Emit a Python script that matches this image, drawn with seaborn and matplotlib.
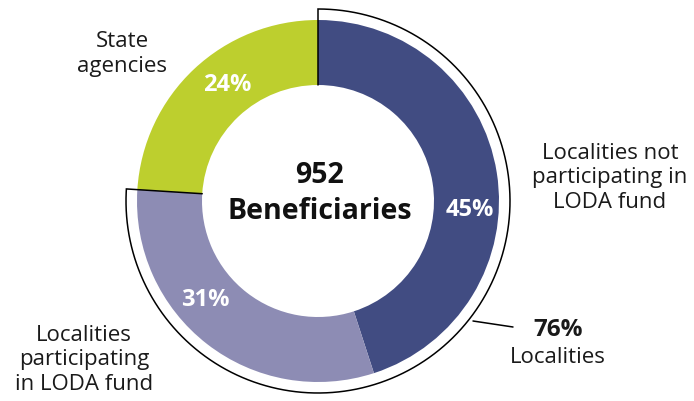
import matplotlib.pyplot as plt
import numpy as np
import seaborn as sns

# valores
segmentos = ["Localities not participating in LODA fund",
             "Localities participating in LODA fund",
             "State agencies"]
percentuais = [45, 31, 24]
cores = ["#414c82", "#8d8cb4", "#bdcf2e"]
total_beneficiarios = 952
localidades = ["Localities not participating in LODA fund",
               "Localities participating in LODA fund"]

W, H = 694, 402


def px(x, y):
    # coordenadas de tela (y para baixo) -> dados (y para cima)
    return x, H - y


sns.set_theme(style="white")
plt.rcParams["font.family"] = ["Open Sans", "DejaVu Sans"]

fig = plt.figure(figsize=(W / 100, H / 100), dpi=100)
ax = fig.add_axes([0, 0, 1, 1])

cx, cy = px(318, 202)
r_ext, r_int = 181, 116

ax.pie(
    percentuais,
    colors=cores,
    startangle=90,
    counterclock=False,
    radius=r_ext,
    center=(cx, cy),
    wedgeprops=dict(width=r_ext - r_int, edgecolor="none", linewidth=0),
)

# colchete em volta das localidades (76%)
frac_loc = sum(p for s, p in zip(segmentos, percentuais) if s in localidades) / sum(percentuais)
r_colchete = 192
theta = np.radians(np.linspace(90, 90 - 360 * frac_loc, 300))
xs = np.concatenate([[cx + r_int * np.cos(theta[0])], cx + r_colchete * np.cos(theta),
                     [cx + r_int * np.cos(theta[-1])]])
ys = np.concatenate([[cy + r_int * np.sin(theta[0])], cy + r_colchete * np.sin(theta),
                     [cy + r_int * np.sin(theta[-1])]])
ax.plot(xs, ys, color="black", lw=1.1, solid_joinstyle="miter")

# linha de chamada do 76%
ax.plot(*zip(px(473, 322), px(513, 328)), color="black", lw=1.1)

# rótulos de percentual
pos_pct = [px(470, 210), px(205, 300), px(227, 85)]
for p, (x, y) in zip(percentuais, pos_pct):
    ax.text(x, y, f"{p}%", color="white", fontsize=17, fontweight="bold",
            ha="center", va="center")

# texto central
ax.text(*px(320, 176), f"{total_beneficiarios}", fontsize=20.5, fontweight="bold",
        ha="center", va="center", color="#111111")
ax.text(*px(320, 212), "Beneficiaries", fontsize=20.5, fontweight="bold",
        ha="center", va="center", color="#111111")

# rótulos externos
estilo = dict(fontsize=16, ha="center", va="center", color="#1a1a1a", linespacing=1.2)
ax.text(*px(122, 54), "State\nagencies", **estilo)
ax.text(*px(610, 178), "Localities not\nparticipating in\nLODA fund", **estilo)
ax.text(*px(84, 360), "Localities\nparticipating\nin LODA fund", **estilo)

ax.text(*px(558, 330), f"{round(frac_loc * 100)}%", fontsize=17.5, fontweight="bold",
        ha="center", va="center", color="#1a1a1a")
ax.text(*px(558, 358), "Localities", **estilo)

ax.set_xlim(0, W)
ax.set_ylim(0, H)
ax.set_aspect("equal")
ax.axis("off")

fig.savefig("out.png", dpi=100)
